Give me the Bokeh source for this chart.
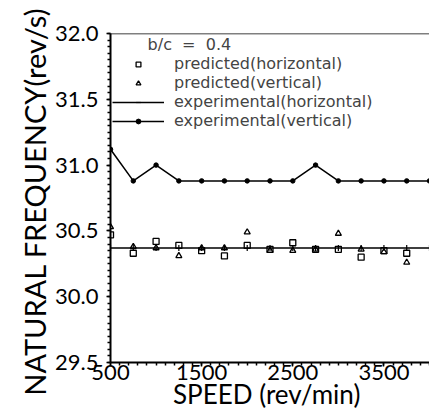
from bokeh.plotting import figure
from bokeh.models import Legend, LegendItem, Span, FixedTicker, Range1d, CustomJSTickFormatter
from bokeh.embed import file_html
from bokeh.resources import INLINE
import math

speed = [500, 750, 1000, 1250, 1500, 1750, 2000, 2250, 2500, 2750, 3000, 3250, 3500, 3750]
pred_horizontal = [30.47, 30.33, 30.42, 30.39, 30.35, 30.31, 30.39, 30.36, 30.41, 30.36, 30.36, 30.30, 30.35, 30.33]
pred_vertical = [30.53, 30.38, 30.37, 30.31, 30.37, 30.37, 30.49, 30.35, 30.35, 30.36, 30.48, 30.36, 30.34, 30.26]
exp_speed = [500, 750, 1000, 1250, 1500, 1750, 2000, 2250, 2500, 2750, 3000, 3250, 3500, 3750, 4000]
exp_horizontal = [30.37, 30.37, 30.37, 30.37, 30.37, 30.37, 30.37, 30.37, 30.37, 30.37, 30.37, 30.37, 30.37, 30.37, 30.37]
exp_vertical = [31.12, 30.88, 31.0, 30.88, 30.88, 30.88, 30.88, 30.88, 30.88, 31.0, 30.88, 30.88, 30.88, 30.88, 30.88]
x_ticks = [500, 1500, 2500, 3500]
y_ticks = [29.5, 30.0, 30.5, 31.0, 31.5, 32.0]

FONT = "Lato"
LFONT = "DejaVu Sans"

p = figure(width=429, height=414, output_backend="svg", toolbar_location=None,
           x_range=Range1d(500, 4000), y_range=Range1d(29.5, 32.0),
           min_border_left=110, min_border_right=0, min_border_top=33, min_border_bottom=52)
p.outline_line_color = None
p.grid.visible = False
p.background_fill_color = "white"

top = Span(location=32.0, dimension="width", line_color="black", line_width=1.5)
p.add_layout(top)

l_eh = p.line(exp_speed, exp_horizontal, line_color="black", line_width=1.5)
m_eh = p.scatter(exp_speed, exp_horizontal, marker="dash", angle=math.pi / 2, size=6,
                 line_color="black", line_width=1.2)
l_ev = p.line(exp_speed, exp_vertical, line_color="black", line_width=1.5)
m_ev = p.scatter(exp_speed, exp_vertical, marker="circle", size=4.5,
                 fill_color="black", line_color="black")
r_ph = p.scatter(speed, pred_horizontal, marker="square", size=6,
                 fill_color=None, line_color="black", line_width=1.3)
r_pv = p.scatter(speed, pred_vertical, marker="triangle", size=6,
                 fill_color=None, line_color="black", line_width=1.3)

legend = Legend(items=[
    LegendItem(label="predicted(horizontal)", renderers=[r_ph]),
    LegendItem(label="predicted(vertical)", renderers=[r_pv]),
    LegendItem(label="experimental(horizontal)", renderers=[l_eh, m_eh]),
    LegendItem(label="experimental(vertical)", renderers=[l_ev, m_ev]),
], location="top_left")
legend.title = "\u00a0\u00a0\u00a0\u00a0\u00a0\u00a0\u00a0b/c  =  0.4"
legend.title_text_font = LFONT
legend.title_text_font_size = "16px"
legend.title_text_font_style = "normal"
legend.title_standoff = 0
legend.label_text_font = LFONT
legend.label_text_font_size = "16px"
legend.label_text_line_height = 0.8
legend.label_height = 12
legend.glyph_height = 12
legend.glyph_width = 52
legend.label_standoff = 10
legend.spacing = 0
legend.padding = 2
legend.margin = 2
legend.border_line_color = None
legend.background_fill_alpha = 0
p.add_layout(legend)

for ax in (p.xaxis[0], p.yaxis[0]):
    ax.axis_line_width = 2
    ax.axis_line_color = "black"
    ax.major_tick_in = 0
    ax.major_tick_out = 4
    ax.minor_tick_in = 0
    ax.minor_tick_out = 3
    ax.minor_tick_line_width = 1.5
    ax.major_tick_line_width = 1.5
    ax.major_label_text_font = FONT
    ax.major_label_text_font_size = "22px"
    ax.major_label_text_color = "black"
    ax.axis_label_text_font = FONT
    ax.axis_label_text_font_size = "29px"
    ax.axis_label_text_font_style = "normal"
    ax.axis_label_text_color = "black"

p.xaxis.ticker = FixedTicker(ticks=x_ticks, minor_ticks=list(range(500, 4001, 100)))
p.yaxis.ticker = FixedTicker(ticks=y_ticks, minor_ticks=[29.5 + 0.05 * i for i in range(51)])
p.yaxis.formatter = CustomJSTickFormatter(code="return tick.toFixed(1);")
p.xaxis.axis_label = "SPEED  (rev/min)"
p.yaxis.axis_label = "NATURAL  FREQUENCY(rev/s)"
p.xaxis.axis_label_text_font_size = "26px"
p.xaxis.major_label_standoff = -2
p.xaxis.axis_label_standoff = -5
p.yaxis.major_label_standoff = 8
p.yaxis.axis_label_standoff = 0

open("out.html", "w").write(file_html(p, INLINE))
